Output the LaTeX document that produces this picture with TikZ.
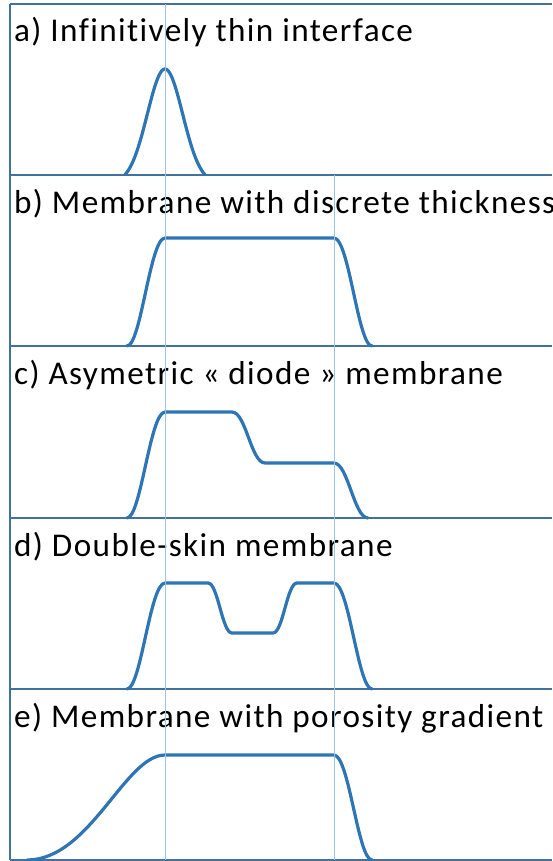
\documentclass[tikz,border=0pt]{standalone}
\usepackage{fontspec}
\setmainfont[Ligatures=NoCommon,LetterSpace=4.2]{Carlito}
\definecolor{curveblue}{HTML}{2E75B6}
\definecolor{frameblue}{HTML}{41719C}
\definecolor{guideblue}{HTML}{9DC3E6}
\begin{document}
\begin{tikzpicture}[x=1pt,y=-1pt,
  frame/.style={draw=frameblue,line width=2pt},
  guide/.style={draw=guideblue,line width=1pt},
  profile/.style={draw=curveblue,line width=3.2pt,line cap=round,line join=round},
  label/.style={anchor=base west,inner sep=0pt,font=\fontsize{33.2}{40}\selectfont}]
\useasboundingbox (0,0) rectangle (552,861);
% frame
\draw[frame] (10,4) -- (10,860);
\foreach \y in {4,175,346,518,689,860}{\draw[frame] (10,\y) -- (552,\y);}
% labels
\node[label] (la) at (14,42) {a) Infinitively thin interface};
\node[label] (lb) at (14,213) {b) Membrane with discrete thickness};
\node[label] (lc) at (14,384) {c) Asymetric « diode » membrane};
\node[label] (ld) at (14,556) {d) Double-skin membrane};
\node[label] (le) at (14,727) {e) Membrane with porosity gradient};
% a) gaussian
\draw[profile] plot[domain=125:205,samples=80,smooth] (\x,{175-106*(exp(-((\x-165)/25)^2)-0.075)/(1-0.075)});
% b)
\draw[profile] (127,346) .. controls (141,346) and (150,238) .. (165,238) -- (334,238)
  .. controls (349,238) and (358,346) .. (372,346);
% c)
\draw[profile] (127,518) .. controls (141,518) and (150,412) .. (165,412) -- (232,412)
  .. controls (246,412) and (251,463) .. (265,463) -- (334,463)
  .. controls (348,463) and (354,518) .. (368,518);
% d)
\draw[profile] (127,689) .. controls (141,689) and (150,583) .. (165,583) -- (208,583)
  .. controls (218,583) and (222,633) .. (232,633) -- (273,633)
  .. controls (283,633) and (287,583) .. (297,583) -- (334,583)
  .. controls (349,583) and (358,689) .. (372,689);
% e)
\draw[profile] (27,860) .. controls (90,860) and (125,755) .. (165,755) -- (334,755)
  .. controls (349,755) and (358,860) .. (372,860);
% guides
\draw[guide] (165,4) -- (165,860);
\draw[guide] (334,175) -- (334,860);
\end{tikzpicture}
\end{document}
